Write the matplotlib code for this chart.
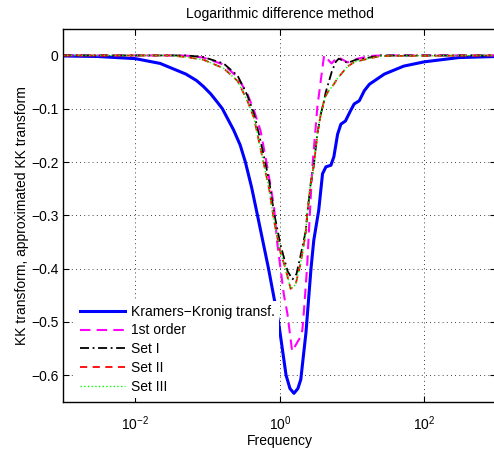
import numpy as np
import matplotlib
matplotlib.use("Agg")
import matplotlib.pyplot as plt
from matplotlib.ticker import FixedLocator, NullLocator, LogFormatterSciNotation

plt.rcParams['font.family'] = ['Liberation Sans', 'DejaVu Sans']

# Kramers-Kronig transform
kk_f = [0.001, 0.003, 0.01, 0.022, 0.05, 0.07, 0.087, 0.11, 0.135, 0.16, 0.229,
        0.282, 0.333, 0.407, 0.49, 0.697, 0.959, 1.219, 1.38, 1.567, 1.778,
        1.95, 2.3, 2.7, 2.95, 3.45, 3.9, 4.35, 5.1, 5.6, 6.3, 7.0, 8.1, 9.5,
        10.7, 12.6, 14.8, 17.4, 28, 52, 100, 300, 1000]
kk_v = [-0.001, -0.002, -0.006, -0.015, -0.035, -0.047, -0.058, -0.072,
        -0.087, -0.1, -0.14, -0.168, -0.2, -0.248, -0.3, -0.4, -0.5, -0.6,
        -0.625, -0.634, -0.625, -0.608, -0.52, -0.40, -0.347, -0.291, -0.222,
        -0.209, -0.206, -0.19, -0.148, -0.129, -0.123, -0.104, -0.091, -0.085,
        -0.066, -0.054, -0.035, -0.02, -0.012, -0.004, -0.002]

# 1st order approximation
o1_f = [0.001, 0.04, 0.06, 0.087, 0.166, 0.26, 0.355, 0.44, 0.54, 0.67, 0.83,
        0.92, 1.14, 1.27, 1.48, 1.95, 2.05, 2.16, 2.28, 2.4, 2.53, 2.82, 3.3,
        3.68, 4.1, 5.2, 6.3, 8.7, 12, 18, 25, 1000]
o1_v = [0, 0, -0.001, -0.004, -0.017, -0.041, -0.072, -0.104, -0.141, -0.209,
        -0.284, -0.352, -0.45, -0.484, -0.555, -0.527, -0.515, -0.478, -0.434,
        -0.39, -0.328, -0.209, -0.098, -0.048, 0.0, -0.015, -0.003, -0.013,
        -0.006, -0.001, 0, 0]

# Set I
s1_f = [0.001, 0.05, 0.087, 0.166, 0.26, 0.355, 0.44, 0.54, 0.71, 0.83, 1.02,
        1.28, 1.5, 1.7, 1.94, 2.28, 2.4, 2.67, 2.97, 3.3, 3.68, 4.1, 4.3, 5.25,
        5.95, 6.55, 8.7, 11.3, 15.5, 25, 1000]
s1_v = [0, 0, -0.003, -0.015, -0.038, -0.075, -0.11, -0.16, -0.235, -0.295,
        -0.355, -0.405, -0.42, -0.41, -0.375, -0.33, -0.297, -0.241, -0.204,
        -0.148, -0.111, -0.085, -0.07, -0.03, -0.012, -0.006, -0.014, -0.008,
        -0.005, 0, 0]

# Set II
s2_f = [0.001, 0.03, 0.05, 0.087, 0.166, 0.26, 0.355, 0.44, 0.54, 0.71, 0.83,
        1.02, 1.2, 1.41, 1.65, 1.94, 2.28, 2.4, 2.67, 2.97, 3.3, 3.68, 4.1,
        4.35, 4.75, 5.35, 6.3, 8.6, 10.9, 15.7, 25, 1000]
s2_v = [0, 0, -0.003, -0.008, -0.024, -0.048, -0.085, -0.118, -0.175, -0.25,
        -0.31, -0.37, -0.40, -0.438, -0.43, -0.39, -0.334, -0.297, -0.241,
        -0.204, -0.148, -0.111, -0.085, -0.075, -0.066, -0.058, -0.043,
        -0.021, -0.012, -0.007, -0.001, 0]

# Set III
s3_f = [0.001, 0.03, 0.05, 0.087, 0.166, 0.26, 0.355, 0.44, 0.54, 0.71, 0.83,
        1.02, 1.2, 1.41, 1.65, 1.94, 2.28, 2.4, 2.67, 2.97, 3.3, 3.68, 4.1,
        4.35, 4.75, 5.35, 6.3, 8.6, 10.9, 15.7, 25, 1000]
s3_v = [0, 0, -0.003, -0.008, -0.024, -0.048, -0.085, -0.118, -0.175, -0.25,
        -0.31, -0.37, -0.40, -0.438, -0.43, -0.39, -0.334, -0.297, -0.241,
        -0.204, -0.148, -0.111, -0.085, -0.075, -0.066, -0.058, -0.043,
        -0.021, -0.012, -0.007, -0.001, 0]

fig = plt.figure(figsize=(4.94, 4.5), dpi=100)
ax = fig.add_axes([0.128, 0.107, 0.877, 0.829])

ax.semilogx(kk_f, kk_v, '-', color='#0000ff', lw=2.2, label='Kramers\u2212Kronig transf.')
ax.semilogx(o1_f, o1_v, '--', color='#ff00ff', lw=1.5, dashes=(5, 3), label='1st order')
ax.semilogx(s1_f, s1_v, '-.', color='black', lw=1.3, dashes=(5, 2, 1, 2), label='Set I')
ax.semilogx(s2_f, s2_v, '--', color='#ff0000', lw=1.3, dashes=(4, 3), label='Set II')
ax.semilogx(s3_f, s3_v, ':', color='#00ff00', lw=1.0, label='Set III')

ax.set_xlim(1e-3, 1e3)
ax.set_ylim(-0.65, 0.05)
ax.xaxis.set_major_locator(FixedLocator([1e-2, 1e0, 1e2]))
ax.xaxis.set_major_formatter(LogFormatterSciNotation())
ax.xaxis.set_minor_locator(NullLocator())
ax.set_yticks([0, -0.1, -0.2, -0.3, -0.4, -0.5, -0.6])
ax.set_yticklabels(['0', '\u22120.1', '\u22120.2', '\u22120.3', '\u22120.4', '\u22120.5', '\u22120.6'])

ax.grid(True, which='major', linestyle=(0, (1, 4)), color='black', lw=0.6)
ax.tick_params(direction='in', top=True, right=True, labelsize=10, length=4)
ax.tick_params(axis='x', pad=9)
for s in ax.spines.values():
    s.set_linewidth(1.0)

ax.set_title('Logarithmic difference method', fontsize=10, pad=8)
ax.set_xlabel('Frequency', fontsize=10, labelpad=1)
ax.set_ylabel('KK transform, approximated KK transform', fontsize=10, labelpad=1)

leg = ax.legend(loc='lower left', bbox_to_anchor=(0.029, 0.011), frameon=True,
                fontsize=10, handlelength=3.25, handletextpad=0.43,
                labelspacing=0.34, borderaxespad=0, borderpad=0.3)
leg.get_frame().set_edgecolor('none')
leg.get_frame().set_facecolor('white')
leg.get_frame().set_alpha(1)

fig.savefig('out.png', dpi=100)
